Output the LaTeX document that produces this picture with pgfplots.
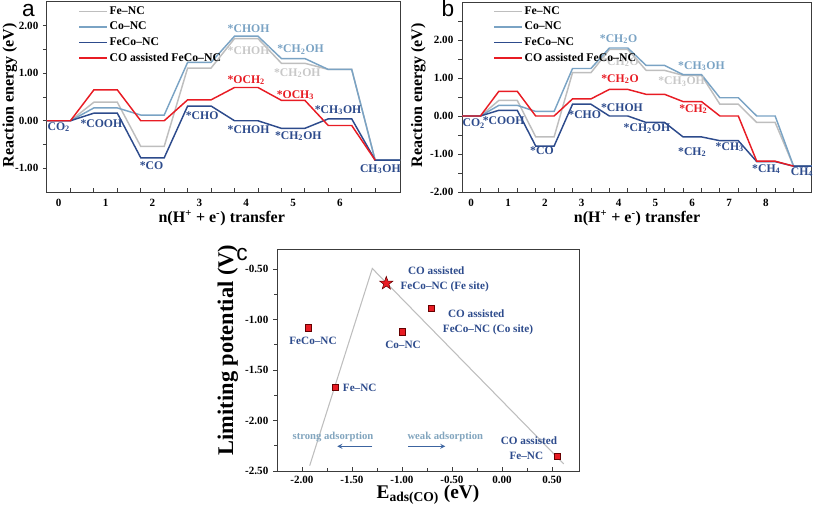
\documentclass[border=0pt]{standalone}
\usepackage{pgfplots}
\pgfplotsset{compat=1.18}
\usepackage{fontspec}
\setmainfont{Liberation Serif}
\setsansfont{Liberation Sans}
\definecolor{cFe}{RGB}{190,190,190}
\definecolor{cCo}{RGB}{122,163,196}
\definecolor{cFeCo}{RGB}{45,75,140}
\definecolor{cRed}{RGB}{232,28,36}
\definecolor{cTxtGray}{RGB}{200,200,200}
\definecolor{cArrow}{RGB}{60,100,160}
\definecolor{cAds}{RGB}{130,165,190}
\definecolor{cFrame}{RGB}{60,60,60}
\newcommand\tf{\fontsize{8.3}{9}\selectfont\bfseries}
\newcommand\lf{\fontsize{8.8}{10}\selectfont\bfseries}
\newcommand\cf{\fontsize{8.4}{10}\selectfont\bfseries}
\newcommand\af{\fontsize{12}{14}\selectfont\bfseries}
\newcommand\bigf{\fontsize{16.8}{18}\selectfont\bfseries}
\pgfdeclareplotmark{fstar}{%
 \pgfpathmoveto{\pgfpointpolar{90}{\pgfplotmarksize}}%
 \pgfpathlineto{\pgfpointpolar{126}{0.4*\pgfplotmarksize}}%
 \pgfpathlineto{\pgfpointpolar{162}{\pgfplotmarksize}}%
 \pgfpathlineto{\pgfpointpolar{198}{0.4*\pgfplotmarksize}}%
 \pgfpathlineto{\pgfpointpolar{234}{\pgfplotmarksize}}%
 \pgfpathlineto{\pgfpointpolar{270}{0.4*\pgfplotmarksize}}%
 \pgfpathlineto{\pgfpointpolar{306}{\pgfplotmarksize}}%
 \pgfpathlineto{\pgfpointpolar{342}{0.4*\pgfplotmarksize}}%
 \pgfpathlineto{\pgfpointpolar{18}{\pgfplotmarksize}}%
 \pgfpathlineto{\pgfpointpolar{54}{0.4*\pgfplotmarksize}}%
 \pgfpathclose
 \pgfusepathqfillstroke
}
\tikzset{
 dkb/.style={text=cFeCo, font=\lf, inner sep=0pt},
 stb/.style={text=cCo, font=\lf, inner sep=0pt},
 grb/.style={text=cTxtGray, font=\lf, inner sep=0pt},
 rdb/.style={text=cRed, font=\lf, inner sep=0pt},
 cdb/.style={text=cFeCo, font=\cf, inner sep=0pt},
}
\pgfplotsset{
 myax/.style={scale only axis, clip=false,
  axis line style={cFrame, line width=0.75pt},
  tick style={cFrame, line width=0.6pt},
  major tick length=3pt, minor tick length=2pt,
  /pgf/number format/assume math mode=true,
  tick label style={font=\tf},
  label style={font=\af},
  xtick pos=left, ytick pos=left,
  xtick align=inside, ytick align=outside,
  yticklabel style={/pgf/number format/.cd,fixed,fixed zerofill,precision=2},
 },
 energy/.style={myax,
  major x tick style={draw=none},
  minor x tick style={line width=0.6pt},
  xtick align=inside,
  minor tick length=3pt,
  xticklabel style={yshift=-2pt},
  xlabel={n(H\textsuperscript{+} + e\textsuperscript{-}) transfer},
  ylabel={Reaction energy (eV)},
  legend style={at={(axis description cs:0.008,0.985)}, xshift=21.5pt, anchor=north west, draw=none, fill=none, font=\lf, row sep=2.3pt, inner sep=0pt, nodes={inner sep=1pt}},
  legend cell align=left,
 },
}
\begin{document}
\begin{tikzpicture}
% ---------------- panel a ----------------
\begin{axis}[energy, at={(35.25pt,242.25pt)}, anchor=south west,
  width=264.75pt, height=142.5pt,
  xmin=-0.25, xmax=7.28, ymin=-1.5, ymax=2.5,
  xtick={0,1,2,3,4,5,6}, minor xtick={0.25,0.75,...,6.75},
  ytick={-1,0,1,2}, minor ytick={-0.5,0.5,1.5},
  xlabel style={at={(axis description cs:0.495,-0.158)}, anchor=base},
  ylabel style={at={(axis description cs:-0.105,0.51)}, anchor=center},
  legend image code/.code={\draw[#1] plot coordinates {(0pt,0pt) (10.5pt,0pt) (21pt,0pt)};},
]
\addplot[cFe, line width=1.1pt] coordinates {(-0.25,0)(0.25,0)(0.75,0.39)(1.25,0.39)(1.75,-0.54)(2.25,-0.54)(2.75,1.11)(3.25,1.11)(3.75,1.73)(4.25,1.73)(4.75,1.21)(5.25,1.21)(5.75,1.08)(6.25,1.08)(6.75,-0.83)(7.28,-0.83)};
\addlegendentry{Fe–NC}
\addplot[cCo, line width=1.1pt] coordinates {(-0.25,0)(0.25,0)(0.75,0.27)(1.25,0.27)(1.75,0.12)(2.25,0.12)(2.75,1.23)(3.25,1.23)(3.75,1.78)(4.25,1.78)(4.75,1.31)(5.25,1.31)(5.75,1.08)(6.25,1.08)(6.75,-0.83)(7.28,-0.83)};
\addlegendentry{Co–NC}
\addplot[cFeCo, line width=1.1pt] coordinates {(-0.25,0)(0.25,0)(0.75,0.16)(1.25,0.16)(1.75,-0.78)(2.25,-0.78)(2.75,0.31)(3.25,0.31)(3.75,0.0)(4.25,0.0)(4.75,-0.16)(5.25,-0.16)(5.75,0.04)(6.25,0.04)(6.75,-0.83)(7.28,-0.83)};
\addlegendentry{FeCo–NC}
\addplot[cRed, line width=1.1pt] coordinates {(-0.25,0)(0.25,0)(0.75,0.65)(1.25,0.65)(1.75,0.0)(2.25,0.0)(2.75,0.44)(3.25,0.44)(3.75,0.70)(4.25,0.70)(4.75,0.43)(5.25,0.43)(5.75,-0.10)(6.25,-0.10)(6.75,-0.83)};
\addlegendentry{CO assisted FeCo–NC}
\node[dkb] at (axis cs:0.0,-0.14) {CO\textsubscript{2}};
\node[dkb] at (axis cs:0.91,-0.06) {*COOH};
\node[dkb] at (axis cs:1.98,-0.95) {*CO};
\node[dkb] at (axis cs:3.06,0.10) {*CHO};
\node[dkb] at (axis cs:4.05,-0.19) {*CHOH};
\node[dkb] at (axis cs:5.11,-0.33) {*CH\textsubscript{2}OH};
\node[dkb] at (axis cs:5.96,0.23) {*CH\textsubscript{3}OH};
\node[dkb] at (axis cs:6.86,-1.02) {CH\textsubscript{3}OH};
\node[stb] at (axis cs:4.05,1.93) {*CHOH};
\node[grb] at (axis cs:4.05,1.47) {*CHOH};
\node[stb] at (axis cs:5.16,1.5) {*CH\textsubscript{2}OH};
\node[grb] at (axis cs:5.09,1.0) {*CH\textsubscript{2}OH};
\node[rdb] at (axis cs:4.0,0.85) {*OCH\textsubscript{2}};
\node[rdb] at (axis cs:5.05,0.54) {*OCH\textsubscript{3}};
\end{axis}
% ---------------- panel b ----------------
\begin{axis}[energy, at={(346.5pt,242.25pt)}, anchor=south west,
  width=262.5pt, height=142.5pt,
  xmin=-0.25, xmax=9.25, ymin=-2, ymax=3,
  xtick={0,1,2,3,4,5,6,7,8}, minor xtick={0.25,0.75,...,8.75},
  ytick={-2,-1,0,1,2}, minor ytick={-1.5,-0.5,0.5,1.5,2.5},
  xlabel style={at={(axis description cs:0.50,-0.158)}, anchor=base},
  ylabel style={at={(axis description cs:-0.125,0.51)}, anchor=center},
  legend image code/.code={\draw[#1] plot coordinates {(0pt,0pt) (10.5pt,0pt) (21pt,0pt)};},
]
\addplot[cFe, line width=1.1pt] coordinates {(-0.25,0)(0.25,0)(0.75,0.41)(1.25,0.41)(1.75,-0.55)(2.25,-0.55)(2.75,1.14)(3.25,1.14)(3.75,1.75)(4.25,1.75)(4.75,1.20)(5.25,1.20)(5.75,1.07)(6.25,1.07)(6.75,0.31)(7.25,0.31)(7.75,-0.17)(8.25,-0.17)(8.75,-1.32)(9.25,-1.32)};
\addlegendentry{Fe–NC}
\addplot[cCo, line width=1.1pt] coordinates {(-0.25,0)(0.25,0)(0.75,0.28)(1.25,0.28)(1.75,0.12)(2.25,0.12)(2.75,1.25)(3.25,1.25)(3.75,1.79)(4.25,1.79)(4.75,1.33)(5.25,1.33)(5.75,1.09)(6.25,1.09)(6.75,0.48)(7.25,0.48)(7.75,0.0)(8.25,0.0)(8.75,-1.32)(9.25,-1.32)};
\addlegendentry{Co–NC}
\addplot[cFeCo, line width=1.1pt] coordinates {(-0.25,0)(0.25,0)(0.75,0.15)(1.25,0.15)(1.75,-0.79)(2.25,-0.79)(2.75,0.31)(3.25,0.31)(3.75,0.0)(4.25,0.0)(4.75,-0.17)(5.25,-0.17)(5.75,-0.55)(6.25,-0.55)(6.75,-0.65)(7.25,-0.65)(7.75,-1.20)(8.25,-1.20)(8.75,-1.32)(9.25,-1.32)};
\addlegendentry{FeCo–NC}
\addplot[cRed, line width=1.1pt] coordinates {(-0.25,0)(0.25,0)(0.75,0.65)(1.25,0.65)(1.75,0.0)(2.25,0.0)(2.75,0.45)(3.25,0.45)(3.75,0.70)(4.25,0.70)(4.75,0.57)(5.25,0.57)(5.75,0.38)(6.25,0.38)(6.75,0.0)(7.25,0.0)(7.75,-1.19)(8.25,-1.19)(8.75,-1.32)};
\addlegendentry{CO assisted FeCo–NC}
\node[dkb] at (axis cs:0.07,-0.20) {CO\textsubscript{2}};
\node[dkb] at (axis cs:0.88,-0.13) {*COOH};
\node[dkb] at (axis cs:1.92,-0.92) {*CO};
\node[dkb] at (axis cs:3.08,0.035) {*CHO};
\node[dkb] at (axis cs:4.09,0.22) {*CHOH};
\node[dkb] at (axis cs:4.77,-0.33) {*CH\textsubscript{2}OH};
\node[dkb] at (axis cs:6.0,-0.95) {*CH\textsubscript{2}};
\node[dkb] at (axis cs:7.02,-0.82) {*CH\textsubscript{3}};
\node[dkb] at (axis cs:8.01,-1.39) {*CH\textsubscript{4}};
\node[dkb] at (axis cs:8.98,-1.48) {CH\textsubscript{4}};
\node[stb] at (axis cs:4.0,2.02) {*CH\textsubscript{2}O};
\node[stb] at (axis cs:6.25,1.32) {*CH\textsubscript{3}OH};
\node[grb] at (axis cs:4.04,1.42) {*CH\textsubscript{2}O};
\node[grb] at (axis cs:5.71,0.90) {*CH\textsubscript{3}OH};
\node[rdb] at (axis cs:4.04,0.97) {*CH\textsubscript{2}O};
\node[rdb] at (axis cs:6.03,0.19) {*CH\textsubscript{2}};
\end{axis}
% ---------------- panel c ----------------
\begin{axis}[myax, at={(207.75pt,33pt)}, anchor=south west,
  width=226.5pt, height=166.5pt,
  xmin=-2.25, xmax=0.77, ymin=-2.5, ymax=-0.3,
  xtick={-2,-1.5,-1,-0.5,0,0.5}, ytick={-2.5,-2,-1.5,-1,-0.5},
  minor x tick num=1, minor y tick num=1,
  xticklabel style={/pgf/number format/.cd,fixed,fixed zerofill,precision=2},
  xlabel={E\textsubscript{ads(CO)} (eV)},
  ylabel={Limiting potential (V)},
  xlabel style={font=\fontsize{14.5}{17}\selectfont\bfseries, at={(axis description cs:0.5,-0.124)}, anchor=base},
  ylabel style={font=\bigf, at={(axis description cs:-0.163,0.545)}, anchor=center},
]
\addplot[cFe, line width=0.8pt] coordinates {(-1.923,-2.447) (-1.297,-0.493) (0.617,-2.43)};
\addplot[only marks, mark=square*, mark size=2.3pt, mark options={fill=cRed, draw=black!60!red, line width=0.4pt}] coordinates {(-1.94,-1.08) (-1.67,-1.67) (-1.0,-1.12) (-0.71,-0.89) (0.553,-2.35)};
\addplot[only marks, mark=fstar, mark size=5.2pt, mark options={fill=cRed, draw=black!60!red, line width=0.4pt}] coordinates {(-1.157,-0.64)};
\node[cdb] at (axis cs:-0.657,-0.51) {CO assisted};
\node[cdb] at (axis cs:-0.573,-0.67) {FeCo–NC (Fe site)};
\node[cdb] at (axis cs:-0.257,-0.94) {CO assisted};
\node[cdb] at (axis cs:-0.14,-1.10) {FeCo–NC (Co site)};
\node[cdb] at (axis cs:-1.89,-1.21) {FeCo–NC};
\node[cdb] at (axis cs:-0.99,-1.245) {Co–NC};
\node[cdb] at (axis cs:-1.423,-1.675) {Fe–NC};
\node[cdb] at (axis cs:0.27,-2.20) {CO assisted};
\node[cdb] at (axis cs:0.243,-2.354) {Fe–NC};
\node[text=cAds, font=\fontsize{8}{9}\selectfont\bfseries, inner sep=0pt] at (axis cs:-1.69,-2.165) {strong adsorption};
\node[text=cAds, font=\fontsize{8}{9}\selectfont\bfseries, inner sep=0pt] at (axis cs:-0.567,-2.165) {weak adsorption};
\draw[cArrow, line width=0.7pt, -stealth] (axis cs:-1.297,-2.255) -- (axis cs:-1.647,-2.255);
\draw[cArrow, line width=0.7pt, -stealth] (axis cs:-0.94,-2.255) -- (axis cs:-0.567,-2.255);
\end{axis}
% panel letters
\node[font=\sffamily\fontsize{17}{19}\selectfont, anchor=base, inner sep=0pt] at (21.4pt,373.75pt) {a};
\node[font=\sffamily\fontsize{17}{19}\selectfont, anchor=base, inner sep=0pt] at (336pt,373.5pt) {b};
\node[font=\sffamily\fontsize{17}{19}\selectfont, anchor=base, inner sep=0pt] at (181.5pt,191.25pt) {c};
\pgfresetboundingbox
\path[use as bounding box] (0pt,0pt) rectangle (609.75pt,386.25pt);
\end{tikzpicture}
\end{document}
